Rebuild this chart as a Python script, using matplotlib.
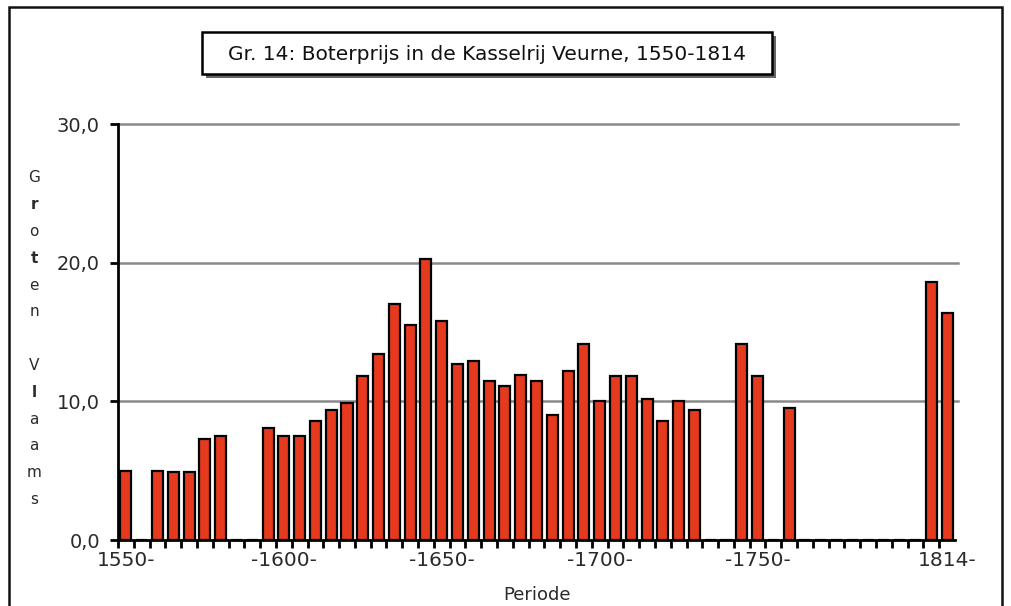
import matplotlib
matplotlib.use("Agg")
import matplotlib.pyplot as plt
from matplotlib.patches import Rectangle

# ---- data ----
periods = [1550 + 5 * i for i in range(53)]
values = [
    5.0, 0.0, 5.0, 4.9, 4.9, 7.3, 7.5, 0.0, 0.0, 8.1,      # 1550-1595
    7.5, 7.5, 8.6, 9.4, 9.9, 11.8, 13.4, 17.0, 15.5, 20.3,  # 1600-1645
    15.8, 12.7, 12.9, 11.5, 11.1, 11.9, 11.5, 9.0, 12.2, 14.1,  # 1650-1695
    10.0, 11.8, 11.8, 10.2, 8.6, 10.0, 9.4, 0.0, 0.0, 14.1,  # 1700-1745
    11.8, 0.0, 9.5, 0.0, 0.0, 0.0, 0.0, 0.0, 0.0, 0.0,      # 1750-1795
    0.0, 18.6, 16.4,                                        # 1800-1810
]
label_idx = [0, 10, 20, 30, 40, 52]
label_txt = ["1550-", "-1600-", "-1650-", "-1700-", "-1750-", "1814-"]
yticks = [0, 10, 20, 30]
ytick_txt = ["0,0", "10,0", "20,0", "30,0"]
title = "Gr. 14: Boterprijs in de Kasselrij Veurne, 1550-1814"
ylabel_letters = ["G", "r", "o", "t", "e", "n", "", "V", "l", "a", "a", "m", "s"]
bold_letters = {1, 3, 8}
xlabel = "Periode"

W, H = 1011, 606
plt.rcParams['font.family'] = ['DejaVu Sans']
fig = plt.figure(figsize=(W / 100, H / 100), dpi=100)
fig.patch.set_facecolor("white")

def fx(px):
    return px / W

def fy(py):
    return 1 - py / H

ax = fig.add_axes([fx(118), fy(540), fx(955) - fx(118), fy(124) - fy(540)])
x = list(range(len(values)))
ax.bar(x, values, width=0.7, color="#E63A1F", edgecolor="black", linewidth=1.6, zorder=3)
ax.set_xlim(-0.5, len(values) - 0.5)
ax.set_ylim(0, 30)

# grid
for yv in yticks[1:]:
    ax.axhline(yv, color="#8a8a8a", lw=1.8, zorder=1, xmax=1.004, clip_on=False)

for s in ["top", "right"]:
    ax.spines[s].set_visible(False)
ax.spines["left"].set_linewidth(2)
ax.spines["bottom"].set_linewidth(2)
ax.spines["left"].set_zorder(4)
ax.spines["bottom"].set_zorder(4)

tick_color = "#2a2a2a"
ax.set_yticks(yticks)
ax.set_yticklabels(ytick_txt, fontsize=14, color=tick_color)
ax.tick_params(axis="y", direction="out", length=6, width=2, pad=7)

ax.set_xticks([i - 0.5 for i in range(len(values))])
ax.set_xticklabels([])
ax.tick_params(axis="x", direction="out", length=6, width=2, pad=4)
ax.set_xticks(label_idx, minor=True)
ax.set_xticklabels(label_txt, minor=True, fontsize=14.5, color=tick_color)
ax.tick_params(axis="x", which="minor", length=0, pad=8)

# x label
fig.text(fx(537), fy(595), xlabel, ha="center", va="center", fontsize=13, color="#2a2a2a")

# vertical stacked y label
y0 = 178
for k, ch in enumerate(ylabel_letters):
    if ch:
        fig.text(fx(34), fy(y0 + k * 26.8), ch, ha="center", va="center", fontsize=11,
                 fontweight="bold" if k in bold_letters else "normal", color="#2a2a2a")

# title box with shadow
bx0, by0, bx1, by1 = 202, 32, 772, 74
fig.patches.append(Rectangle((fx(bx0 + 4), fy(by1 + 4)), fx(bx1) - fx(bx0), fy(by0) - fy(by1),
                             transform=fig.transFigure, facecolor="#666666", edgecolor="none", zorder=1))
fig.patches.append(Rectangle((fx(bx0), fy(by1)), fx(bx1) - fx(bx0), fy(by0) - fy(by1),
                             transform=fig.transFigure, facecolor="white", edgecolor="black", lw=1.8, zorder=2))
fig.text(fx((bx0 + bx1) / 2), fy(54), title, ha="center", va="center", fontsize=14.5, color="#111111", zorder=3)

# outer frame
fig.patches.append(Rectangle((fx(9), fy(640)), fx(1002) - fx(9), fy(7) - fy(640),
                             transform=fig.transFigure, facecolor="none", edgecolor="#111111", lw=1.8, zorder=0))

fig.savefig("out.png", dpi=100, facecolor="white")
